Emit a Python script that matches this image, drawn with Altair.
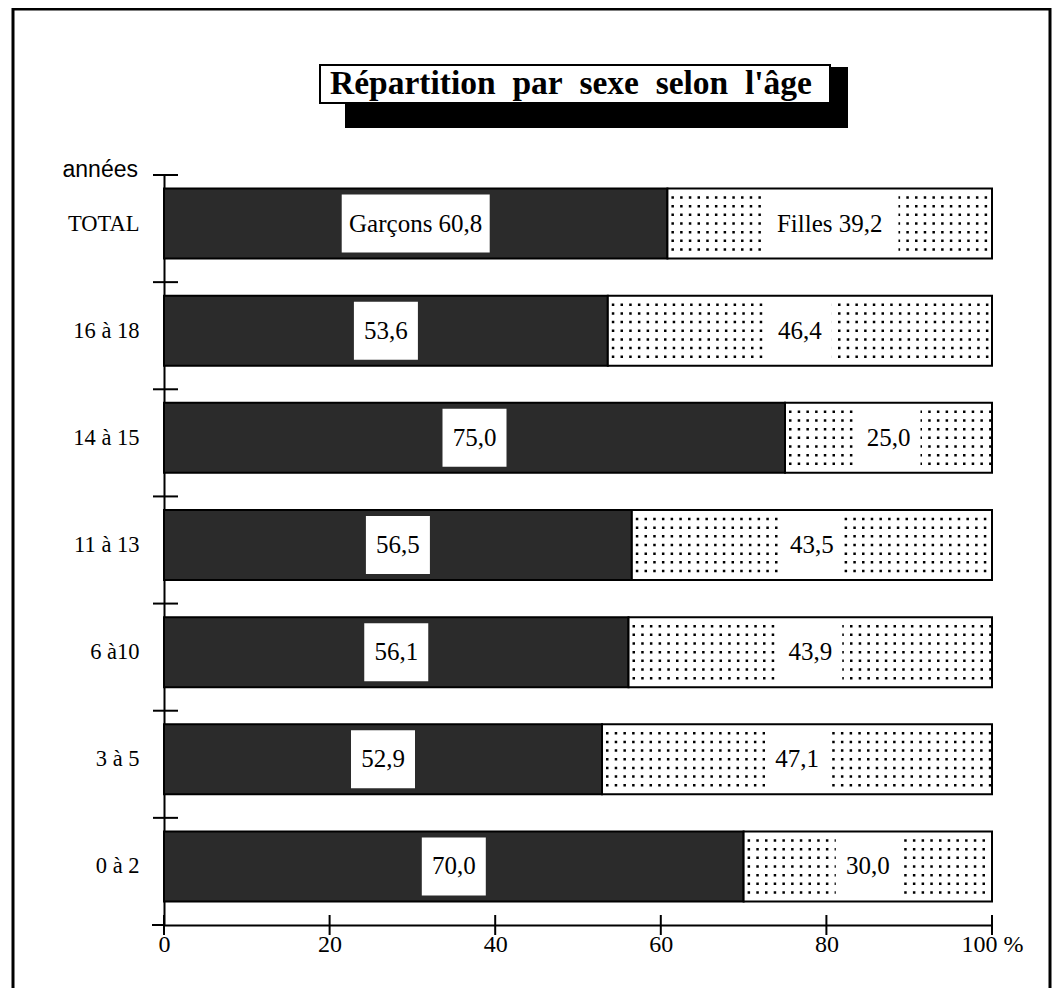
import altair as alt
import pandas as pd

# ---- data ----
ages = ["TOTAL", "16 à 18", "14 à 15", "11 à 13", "6 à10", "3 à 5", "0 à 2"]
garcons = [60.8, 53.6, 75.0, 56.5, 56.1, 52.9, 70.0]
filles = [39.2, 46.4, 25.0, 43.5, 43.9, 47.1, 30.0]
x_ticks = [0, 20, 40, 60, 80, 100]
title_text = "Répartition\u00a0 par\u00a0 sexe\u00a0 selon\u00a0 l'âge"
y_title = "années"
sexes = ["Garçons", "Filles"]

W, H = 828, 750
PX = W / 100.0
SERIF = "Liberation Serif"


def fmt(v):
    return f"{v:.1f}".replace(".", ",")


rows = []
for a, g, f in zip(ages, garcons, filles):
    gl, fl = fmt(g), fmt(f)
    if a == "TOTAL":
        gl, fl = "Garçons " + gl, "Filles " + fl
    rows.append(dict(age=a, sexe="Garçons", start=0.0, end=g, label=gl))
    rows.append(dict(age=a, sexe="Filles", start=g, end=g + f, label=fl))
df = pd.DataFrame(rows)
df["mid"] = (df["start"] + df["end"]) / 2

one = pd.DataFrame({"k": [0]})

y_axis = alt.Axis(title=None, ticks=False, tickSize=0, domain=True, domainColor="black",
                  domainWidth=2, labelFont=SERIF, labelFontSize=22.5, labelColor="black",
                  labelPadding=25, labelOffset=-5)
Y = alt.Y("age:N", sort=ages, scale=alt.Scale(paddingInner=0, paddingOuter=0), axis=y_axis)
Yn = alt.Y("age:N", sort=ages)

x_axis = alt.Axis(title=None, values=x_ticks, ticks=False, tickSize=0, grid=False, domain=True,
                  domainColor="black", domainWidth=2, labelFont=SERIF, labelFontSize=24,
                  labelColor="black", labelPadding=7, labelFlush=False,
                  labelExpr="datum.value == 100 ? '100 %' : datum.label")
X = alt.X("start:Q", scale=alt.Scale(domain=[0, 100], nice=False), axis=x_axis)

base = alt.Chart(df)

frame = alt.Chart(one).mark_rect(fillOpacity=0, stroke="black", strokeWidth=3).encode(
    x=alt.value(-151), x2=alt.value(886), y=alt.value(-166), y2=alt.value(900))

shadow = alt.Chart(one).mark_rect(fill="black").encode(
    x=alt.value(181), x2=alt.value(684), y=alt.value(-108), y2=alt.value(-47))
tbox = alt.Chart(one).mark_rect(fill="white", stroke="black", strokeWidth=2).encode(
    x=alt.value(156), x2=alt.value(666), y=alt.value(-110), y2=alt.value(-72))
ttext = alt.Chart(one).mark_text(font=SERIF, fontSize=33.5, fontWeight="bold", color="black",
                                 baseline="middle", align="center").encode(
    x=alt.value(407), y=alt.value(-91), text=alt.value(title_text))

ylab = alt.Chart(one).mark_text(font="Liberation Sans", fontSize=23, color="black",
                                align="right", baseline="alphabetic").encode(
    x=alt.value(-26), y=alt.value(2), text=alt.value(y_title))

bars = base.mark_bar(height=70, yOffset=-5, stroke="black", strokeWidth=2).encode(
    x=X, x2="end:Q", y=Y,
    fill=alt.Fill("sexe:N", scale=alt.Scale(domain=sexes, range=["#2b2b2b", "#ffffff"]),
                  legend=None))

dots = []
for off in [-26, -17.3, -8.7, 0, 8.7, 17.3, 26]:
    dots.append(
        base.transform_filter(alt.datum.sexe == "Filles")
        .mark_rule(yOffset=off - 5, strokeDash=[2.5, 6.2], strokeDashOffset=-4,
                   strokeWidth=2.5, color="black")
        .encode(x="start:Q", x2="end:Q", y=Yn))

box_calc = dict(bw=f"(length(datum.label) * 10.5 + 22) / {PX}",
                bl="datum.mid - datum.bw / 2", br="datum.mid + datum.bw / 2")
gbox = base.transform_filter(alt.datum.sexe == "Garçons").transform_calculate(**box_calc) \
    .mark_bar(height=58, yOffset=-5, color="white").encode(x="bl:Q", x2="br:Q", y=Yn)
fbox = base.transform_filter(alt.datum.sexe == "Filles").transform_calculate(**box_calc) \
    .mark_bar(height=64, yOffset=-5, color="white").encode(x="bl:Q", x2="br:Q", y=Yn)

texts = base.mark_text(font=SERIF, fontSize=25, color="black", yOffset=-5,
                       baseline="middle", align="center").encode(
    x="mid:Q", y=Yn, text="label:N")

yticks = alt.Chart(pd.DataFrame({"age": ages})).mark_rule(color="black", strokeWidth=2).encode(
    y=alt.Y("age:N", sort=ages, bandPosition=0), x=alt.value(-11), x2=alt.value(14))

xticks = alt.Chart(pd.DataFrame({"v": x_ticks})).mark_rule(color="black", strokeWidth=2).encode(
    x="v:Q", y=alt.value(H - 10), y2=alt.value(H + 10))

xext = alt.Chart(one).mark_rule(color="black", strokeWidth=2).encode(
    x=alt.value(-12), x2=alt.value(0), y=alt.value(H))

chart = alt.layer(frame, shadow, tbox, ttext, ylab, bars, *dots, gbox, fbox, texts,
                  yticks, xticks, xext).properties(
    width=W, height=H,
    autosize=alt.AutoSizeParams(type="none"),
    padding={"left": 156, "top": 167, "right": 60, "bottom": 63},
    background="white",
).configure_view(stroke=None)

chart.save("out.html", embed_options={"renderer": "svg", "actions": False})
